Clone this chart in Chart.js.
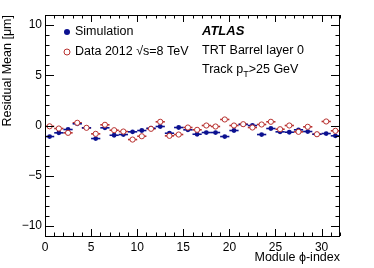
<!DOCTYPE html>
<html>
<head>
<meta charset="utf-8">
<script src="https://cdn.jsdelivr.net/npm/chart.js@4/dist/chart.umd.min.js"></script>
<style>
  html, body { margin: 0; padding: 0; background: #fff; }
</style>
</head>
<body>
<canvas id="residChart" width="374" height="268"></canvas>
<script>
// module phi-index (bins 0..31)
const modules = [0, 1, 2, 3, 4, 5, 6, 7, 8, 9, 10, 11, 12, 13, 14, 15,
                 16, 17, 18, 19, 20, 21, 22, 23, 24, 25, 26, 27, 28, 29, 30, 31];
const simMeans = [-1.1, -0.73, -0.4, 0.17, -0.23, -1.3, -0.23, -0.97, -0.9, -0.63, -0.5, -0.27,
                  -0.1, -0.77, -0.2, -0.43, -0.87, -0.7, -0.7, -1.1, -0.5, 0.1,
                  0.0, -0.9, -0.3, -0.63, -0.67, -0.43, -0.6, -0.87, -0.8, -1.03];
const dataMeans = [-0.08, -0.3, -0.73, 0.27, -0.23, -0.83, 0.07, -0.47, -0.6, -1.4, -1.07, -0.33,
                   0.37, -1.03, -0.9, -0.2, -0.43, 0.0, -0.1, 0.6, 0.0, 0.13,
                   -0.2, 0.1, 0.37, -0.37, 0.0, -0.63, -0.13, -0.87, 0.4, -0.53];
const xTicks = [0, 5, 10, 15, 20, 25, 30];
const yTicks = [-10, -5, 0, 5, 10];

const BLUE = '#0b1190';
const RED = '#b8312f';
const FONT = '"Liberation Sans", Arial, Helvetica, sans-serif';

function toPoints(vals) {
    return modules.map((m, i) => ({ x: m + 0.5, y: vals[i] }));
}

// horizontal bin-width bars, drawn under the markers
const binBars = {
    id: 'binBars',
    beforeDatasetsDraw(chart) {
        const { ctx, scales: { x, y } } = chart;
        ctx.save();
        chart.data.datasets.forEach(ds => {
            ctx.strokeStyle = ds.borderColor;
            ctx.lineWidth = 1.6;
            ds.data.forEach(p => {
                const yy = y.getPixelForValue(p.y);
                ctx.beginPath();
                ctx.moveTo(x.getPixelForValue(p.x - 0.5), yy);
                ctx.lineTo(x.getPixelForValue(p.x + 0.5), yy);
                ctx.stroke();
            });
        });
        ctx.restore();
    }
};

// ROOT style frame with inward ticks + legend and labels
const frame = {
    id: 'frame',
    afterDraw(chart) {
        const { ctx, chartArea: a, scales: { x, y } } = chart;
        ctx.save();
        ctx.strokeStyle = '#000';
        ctx.lineWidth = 1;
        ctx.strokeRect(a.left + 0.5, a.top + 0.5, a.right - a.left - 1, a.bottom - a.top);
        ctx.beginPath();
        for (let v = 0; v <= 32; v++) {
            const px = Math.round(x.getPixelForValue(v)) + 0.5;
            const len = v % 5 === 0 ? 7 : 3.5;
            ctx.moveTo(px, a.bottom); ctx.lineTo(px, a.bottom - len);
            ctx.moveTo(px, a.top); ctx.lineTo(px, a.top + len);
        }
        for (let v = -11; v <= 11; v++) {
            const py = Math.round(y.getPixelForValue(v)) + 0.5;
            const len = v % 5 === 0 ? 9 : 4.5;
            ctx.moveTo(a.left, py); ctx.lineTo(a.left + len, py);
            ctx.moveTo(a.right, py); ctx.lineTo(a.right - len, py);
        }
        ctx.stroke();

        // legend
        ctx.fillStyle = BLUE;
        ctx.beginPath(); ctx.arc(67, 32, 3, 0, Math.PI * 2); ctx.fill();
        ctx.strokeStyle = RED;
        ctx.fillStyle = '#fff';
        ctx.beginPath(); ctx.arc(67, 52, 3, 0, Math.PI * 2); ctx.fill(); ctx.stroke();

        ctx.fillStyle = '#000';
        ctx.textBaseline = 'middle';
        ctx.font = '12.5px ' + FONT;
        ctx.fillText('Simulation', 75, 32);
        ctx.fillText('Data 2012 \u221As=8 TeV', 75, 52);

        ctx.font = 'italic bold 13px ' + FONT;
        ctx.fillText('ATLAS', 202, 31);
        ctx.font = '12.5px ' + FONT;
        ctx.fillText('TRT Barrel layer 0', 202, 51);
        const t1 = 'Track p';
        ctx.fillText(t1, 202, 70);
        const w1 = ctx.measureText(t1).width;
        ctx.font = '9px ' + FONT;
        ctx.fillText('T', 202 + w1, 75);
        const w2 = ctx.measureText('T').width;
        ctx.font = '12.5px ' + FONT;
        ctx.fillText('>25 GeV', 202 + w1 + w2, 70);
        ctx.restore();
    }
};

const minus = v => String(v).replace('-', '\u2212');

new Chart(document.getElementById('residChart'), {
    type: 'scatter',
    data: {
        datasets: [
            {
                label: 'Data 2012',
                data: toPoints(dataMeans),
                borderColor: RED,
                backgroundColor: '#fff',
                borderWidth: 1,
                pointRadius: 2.6,
                pointHoverRadius: 2.6
            },
            {
                label: 'Simulation',
                data: toPoints(simMeans),
                borderColor: BLUE,
                backgroundColor: BLUE,
                borderWidth: 0,
                pointRadius: 2.4,
                pointHoverRadius: 2.4
            }
        ]
    },
    options: {
        responsive: false,
        animation: false,
        layout: { padding: { top: 15, right: 34, left: 0, bottom: 0 } },
        plugins: { legend: { display: false }, tooltip: { enabled: false } },
        scales: {
            x: {
                type: 'linear',
                min: 0,
                max: 32,
                grid: { display: false, drawTicks: false },
                border: { display: false },
                afterBuildTicks: s => { s.ticks = xTicks.map(v => ({ value: v })); },
                afterFit: s => { s.height = 32; },
                ticks: {
                    color: '#000',
                    padding: 4,
                    maxRotation: 0,
                    font: { family: FONT, size: 12 }
                },
                title: {
                    display: true,
                    text: 'Module \u03D5-index',
                    align: 'end',
                    color: '#000',
                    font: { family: FONT, size: 12.5 },
                    padding: { top: 0, bottom: 3 }
                }
            },
            y: {
                min: -11,
                max: 11,
                grid: { display: false, drawTicks: false },
                border: { display: false },
                afterBuildTicks: s => { s.ticks = yTicks.map(v => ({ value: v })); },
                afterFit: s => { s.width = 45; },
                ticks: {
                    color: '#000',
                    padding: 3,
                    font: { family: FONT, size: 12 },
                    callback: v => minus(v)
                },
                title: {
                    display: true,
                    text: 'Residual Mean [\u03BCm]',
                    align: 'end',
                    color: '#000',
                    font: { family: FONT, size: 12.5 },
                    padding: { top: 0, bottom: 0 }
                }
            }
        }
    },
    plugins: [binBars, frame]
});
</script>
</body>
</html>
